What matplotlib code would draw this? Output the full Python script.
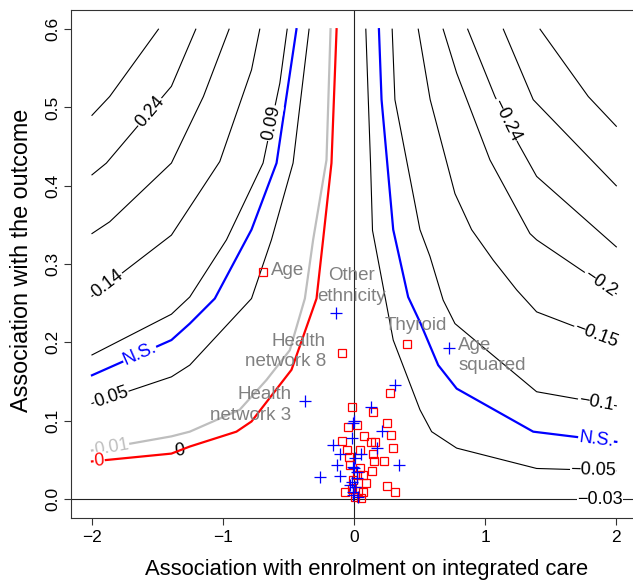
import numpy as np
import matplotlib
matplotlib.use("Agg")
import matplotlib.pyplot as plt

plt.rcParams['font.family'] = ['Liberation Sans', 'DejaVu Sans']

# contour lines (x = association with enrolment, y = association with outcome)
# left side, positive bias levels
c029_x = [-2.0, -1.865, -1.493]
c029_y = [0.490, 0.514, 0.600]
c024_x = [-2.0, -1.89, -1.394, -1.208]
c024_y = [0.414, 0.429, 0.527, 0.600]
c019_x = [-2.0, -1.865, -1.394, -1.15, -0.954]
c019_y = [0.339, 0.354, 0.429, 0.514, 0.600]
c014_x = [-2.0, -1.394, -1.025, -0.783, -0.720]
c014_y = [0.259, 0.337, 0.431, 0.548, 0.600]
c009_x = [-2.0, -1.394, -1.254, -0.974, -0.695, -0.567, -0.511]
c009_y = [0.184, 0.236, 0.258, 0.331, 0.429, 0.531, 0.600]
ns_left_x = [-2.0, -1.394, -1.254, -1.063, -0.783, -0.592, -0.440]
ns_left_y = [0.158, 0.203, 0.224, 0.256, 0.344, 0.429, 0.600]
c005_x = [-2.0, -1.394, -1.254, -0.783, -0.631, -0.466, -0.344]
c005_y = [0.122, 0.156, 0.171, 0.256, 0.331, 0.429, 0.600]
c001_x = [-2.0, -1.394, -1.254, -0.873, -0.669, -0.491, -0.376, -0.313, -0.211, -0.180]
c001_y = [0.062, 0.080, 0.086, 0.114, 0.152, 0.190, 0.256, 0.331, 0.433, 0.600]
c000_x = [-2.0, -1.394, -1.254, -0.898, -0.783, -0.478, -0.287, -0.237, -0.173, -0.134]
c000_y = [0.048, 0.058, 0.067, 0.086, 0.099, 0.165, 0.256, 0.331, 0.429, 0.600]

# right side, negative levels
m005_x = [0.089, 0.125, 0.140, 0.298, 0.502, 0.591, 0.782, 1.392, 2.0]
m005_y = [0.600, 0.429, 0.343, 0.203, 0.114, 0.086, 0.065, 0.039, 0.036]
ns_right_x = [0.189, 0.209, 0.298, 0.412, 0.502, 0.641, 0.782, 1.366, 2.0]
ns_right_y = [0.600, 0.510, 0.344, 0.258, 0.226, 0.171, 0.141, 0.086, 0.073]
m010_x = [0.290, 0.311, 0.502, 0.578, 0.679, 0.769, 1.392, 2.0]
m010_y = [0.600, 0.510, 0.344, 0.310, 0.254, 0.224, 0.137, 0.119]
m015_x = [0.489, 0.580, 0.769, 0.896, 1.061, 1.240, 1.392, 2.0]
m015_y = [0.600, 0.510, 0.390, 0.344, 0.305, 0.267, 0.239, 0.200]
m020_x = [0.679, 0.782, 1.036, 1.341, 1.392, 2.0]
m020_y = [0.600, 0.544, 0.433, 0.339, 0.331, 0.262]
m024_x = [0.866, 1.074, 1.252, 1.392, 2.0]
m024_y = [0.600, 0.514, 0.454, 0.412, 0.322]
m029_x = [1.138, 1.366, 2.0]
m029_y = [0.600, 0.510, 0.400]
m034_x = [1.418, 1.786, 2.0]
m034_y = [0.600, 0.514, 0.476]

# covariates (red squares and blue crosses)
red_x = [-0.695, -0.096, 0.402, 0.272, -0.020, 0.145, -0.046, 0.023, 0.247, 0.076, 0.280,
         -0.096, 0.127, 0.158, -0.051, 0.044, 0.145, 0.298, -0.041, 0.153, 0.229, -0.033,
         0.044, 0.133, 0.018, 0.069, -0.007, 0.094, 0.247, 0.311, -0.071, 0.031, 0.069,
         0.051, 0.005, -0.020]
red_y = [0.290, 0.187, 0.198, 0.135, 0.118, 0.111, 0.092, 0.094, 0.097, 0.080, 0.082,
         0.074, 0.073, 0.073, 0.063, 0.063, 0.058, 0.065, 0.054, 0.049, 0.048, 0.043,
         0.039, 0.036, 0.031, 0.031, 0.024, 0.021, 0.017, 0.009, 0.009, 0.010, 0.009,
         0.001, 0.003, 0.013]
blue_x = [-0.142, -0.376, 0.720, 0.311, 0.127, 0.0, 0.209, -0.020, -0.160, -0.109, 0.171,
          0.056, -0.130, 0.005, -0.008, 0.341, -0.262, -0.109, 0.018, -0.020, -0.033,
          -0.008, 0.031, 0.0, -0.008, 0.010, 0.020, -0.005]
blue_y = [0.237, 0.1255, 0.193, 0.146, 0.118, 0.099, 0.087, 0.078, 0.069, 0.058, 0.065,
          0.058, 0.044, 0.052, 0.041, 0.043, 0.028, 0.029, 0.034, 0.022, 0.018,
          0.009, 0.003, 0.039, 0.097, 0.015, 0.027, 0.005]

point_labels = ["Age", "Other\nethnicity", "Health\nnetwork 8", "Health\nnetwork 3", "Thyroid", "Age\nsquared"]
label_x = [-0.636, -0.018, -0.216, -0.478, 0.467, 0.794]
label_y = [0.292, 0.272, 0.188, 0.120, 0.221, 0.183]
label_ha = ["left", "center", "right", "right", "center", "left"]

fig = plt.figure(figsize=(6.33, 5.81), dpi=100)
ax = fig.add_axes([71 / 633, (581 - 517.8) / 581, (637.3 - 71) / 633, (517.8 - 10.4) / 581])
ax.set_xlim(-2.16, 2.16)
ax.set_ylim(-0.024, 0.624)

ax.axhline(0, color='#222222', lw=0.8, zorder=1)
ax.axvline(0, color='#222222', lw=0.8, zorder=1)

black_lines = [(c029_x, c029_y), (c024_x, c024_y), (c019_x, c019_y), (c014_x, c014_y),
               (c009_x, c009_y), (c005_x, c005_y),
               (m005_x, m005_y), (m010_x, m010_y), (m015_x, m015_y), (m020_x, m020_y),
               (m024_x, m024_y), (m029_x, m029_y), (m034_x, m034_y)]
for xs, ys in black_lines:
    ax.plot(xs, ys, color='black', lw=0.8, zorder=2)

ax.plot(ns_left_x, ns_left_y, color='blue', lw=1.6, zorder=2.5)
ax.plot(ns_right_x, ns_right_y, color='blue', lw=1.6, zorder=2.5)
ax.plot(c001_x, c001_y, color='#BEBEBE', lw=1.6, zorder=2.5)
ax.plot(c000_x, c000_y, color='red', lw=1.6, zorder=2.6)


def contour_label(xs, ys, x0, text, color='black', size=13):
    y0 = np.interp(x0, xs, ys)
    i = max(1, min(len(xs) - 1, np.searchsorted(xs, x0)))
    p1 = ax.transData.transform((xs[i - 1], ys[i - 1]))
    p2 = ax.transData.transform((xs[i], ys[i]))
    ang = np.degrees(np.arctan2(p2[1] - p1[1], p2[0] - p1[0]))
    ax.text(x0, y0, text, color=color, fontsize=size, rotation=ang,
            rotation_mode='anchor', ha='center', va='center', zorder=4,
            bbox=dict(fc='white', ec='none', pad=0.4))


contour_label(c024_x, c024_y, -1.559, "0.24")
contour_label(c014_x, c014_y, -1.880, "0.14")
contour_label(c009_x, c009_y, -0.631, "0.09")
contour_label(ns_left_x, ns_left_y, -1.636, "N.S.", color='blue')
contour_label(c005_x, c005_y, -1.852, "0.05")
contour_label(c001_x, c001_y, -1.852, "0.01", color='#BEBEBE')
contour_label(c000_x, c000_y, -1.945, "0", color='red')
contour_label(m024_x, m024_y, 1.163, "\u22120.24")
contour_label(m020_x, m020_y, 1.875, "\u22120.2")
contour_label(m015_x, m015_y, 1.845, "\u22120.15")
contour_label(m010_x, m010_y, 1.845, "\u22120.1")
contour_label(ns_right_x, ns_right_y, 1.845, "N.S.", color='blue')
contour_label(m005_x, m005_y, 1.825, "\u22120.05")
contour_label([-2.0, 2.0], [0.0, 0.0], 1.876, "\u22120.03")
ax.text(-1.331, 0.062, "0", fontsize=13, ha='center', va='center', rotation=8, zorder=2.4)

ax.plot(red_x, red_y, 's', ms=5.5, mfc='none', mec='red', mew=0.9, zorder=5)
ax.plot(blue_x, blue_y, '+', ms=8, color='blue', mew=0.9, zorder=5)

for t, lx, ly, ha in zip(point_labels, label_x, label_y, label_ha):
    ax.text(lx, ly, t, color='#808080', fontsize=13.5, ha=ha, va='center',
            multialignment=ha, linespacing=1.25, zorder=6)

ax.set_xticks([-2, -1, 0, 1, 2])
ax.set_yticks([0.0, 0.1, 0.2, 0.3, 0.4, 0.5, 0.6])
ax.set_yticklabels(["0.0", "0.1", "0.2", "0.3", "0.4", "0.5", "0.6"], rotation=90, va='center')
ax.tick_params(axis='both', labelsize=12.5, length=5, width=0.8, color='#333333')
ax.tick_params(axis='x', pad=4)
ax.tick_params(axis='y', pad=3)
for s in ax.spines.values():
    s.set_linewidth(0.8)
    s.set_color('#333333')

fig.text(366.8 / 633, 1 - 569 / 581, "Association with enrolment on integrated care",
         fontsize=15.8, ha='center', va='center')
fig.text(22 / 633, 1 - 260 / 581, "Association with the outcome",
         fontsize=16.8, ha='center', va='center', rotation=90)

fig.savefig("out.png", dpi=100)
